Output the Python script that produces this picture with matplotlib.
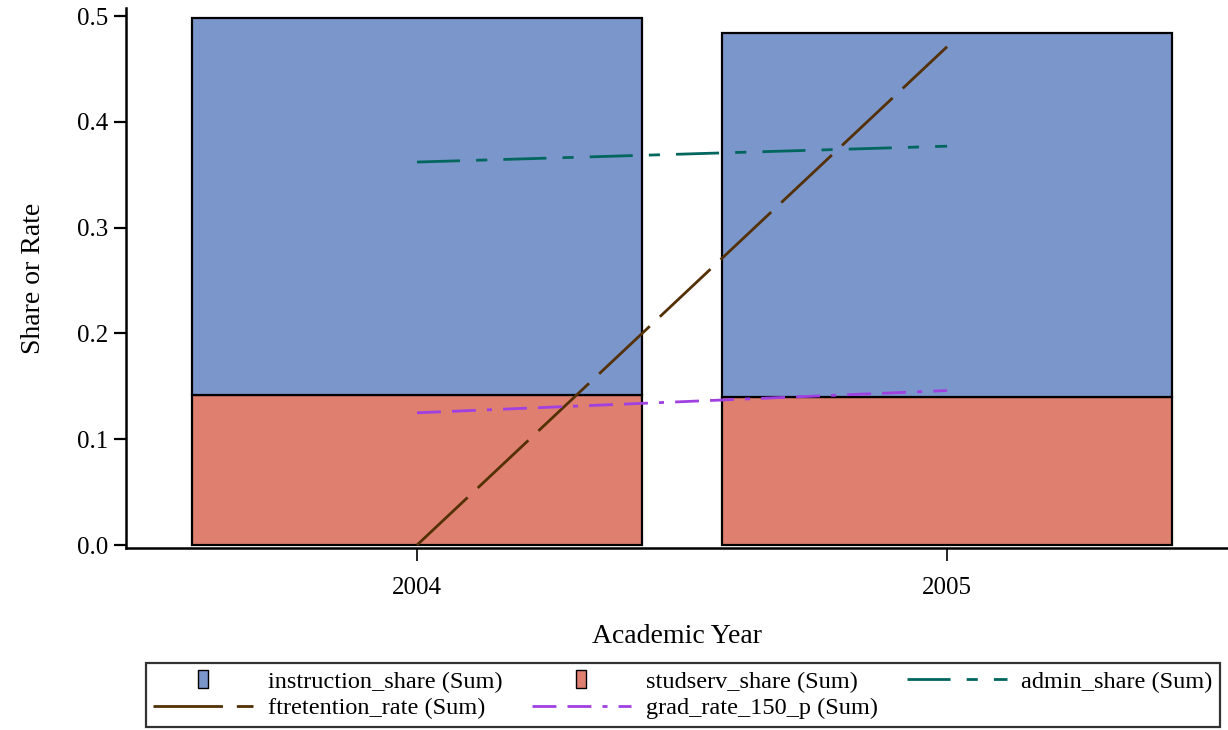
import numpy as np
import matplotlib.pyplot as plt
from matplotlib.lines import Line2D
from matplotlib.path import Path

plt.rcParams['font.family'] = ['Liberation Serif', 'DejaVu Serif']

# data
years = ['2004', '2005']
studserv_share = [0.142, 0.140]
instruction_share = [0.356, 0.344]
admin_share = [0.362, 0.377]
ftretention_rate = [0.0, 0.471]
grad_rate_150_p = [0.125, 0.146]

c_instr = '#7B96CB'
c_stud = '#DE7F70'
c_admin = '#01665E'
c_ftret = '#543005'
c_grad = '#A040E0'

fig = plt.figure(figsize=(12.28, 7.30), dpi=100)
ax = fig.add_axes([126/1228, 182/730, 1 - 126/1228, 540/730])

x = np.arange(len(years))
w = 0.85
ax.bar(x, studserv_share, w, color=c_stud, edgecolor='black', linewidth=1.6)
ax.bar(x, instruction_share, w, bottom=studserv_share, color=c_instr,
       edgecolor='black', linewidth=1.6)

lw = 2.0
d_admin = (15.5, 5.8, 4, 5.8)
d_ftret = (25, 5)
d_grad = (8.6, 4, 8.6, 4, 1.8, 4)
ax.plot(x, admin_share, color=c_admin, lw=lw, dashes=d_admin)
ax.plot(x, ftretention_rate, color=c_ftret, lw=lw, dashes=d_ftret)
ax.plot(x, grad_rate_150_p, color=c_grad, lw=lw, dashes=d_grad)

ax.set_xlim(-0.549, 1.530)
ax.set_ylim(-0.0028, 0.5076)
ax.set_xticks(x)
ax.set_xticklabels(years)
ax.set_yticks(np.arange(0, 0.51, 0.1))
ax.set_yticklabels(['%.1f' % v for v in np.arange(0, 0.51, 0.1)])

for s in ['top', 'right']:
    ax.spines[s].set_visible(False)
for s in ['left', 'bottom']:
    ax.spines[s].set_linewidth(1.8)

ax.tick_params(axis='y', length=9, width=1.6, labelsize=18, pad=4)
ax.tick_params(axis='x', length=9, width=1.2, labelsize=18, pad=12)
ax.set_xlabel('Academic Year', fontsize=20, labelpad=18)
ax.set_ylabel('Share or Rate', fontsize=20, labelpad=22)

# legend
rect = Path([(-0.55, -1), (0.55, -1), (0.55, 1), (-0.55, 1), (-0.55, -1)])
h_instr = Line2D([], [], ls='none', marker=rect, markersize=13,
                 markerfacecolor=c_instr, markeredgecolor='black', markeredgewidth=1)
h_stud = Line2D([], [], ls='none', marker=rect, markersize=13,
                markerfacecolor=c_stud, markeredgecolor='black', markeredgewidth=1)
h_admin = Line2D([], [], color=c_admin, lw=lw, dashes=d_admin)
h_ftret = Line2D([], [], color=c_ftret, lw=lw, dashes=d_ftret)
h_grad = Line2D([], [], color=c_grad, lw=lw, dashes=d_grad)

handles = [h_instr, h_ftret, h_stud, h_grad, h_admin]
labels = ['instruction_share (Sum)', 'ftretention_rate (Sum)',
          'studserv_share (Sum)', 'grad_rate_150_p (Sum)', 'admin_share (Sum)']
leg = fig.legend(handles, labels, ncol=3, loc='center',
                 bbox_to_anchor=(683/1228, 1 - 695/730), fontsize=17.5,
                 frameon=True, fancybox=False, edgecolor='black',
                 handlelength=4.1, handletextpad=0.6, columnspacing=1.2,
                 labelspacing=0.2, borderpad=0.3, borderaxespad=0)
leg.get_frame().set_linewidth(1.6)

fig.savefig('out.png', dpi=100)
